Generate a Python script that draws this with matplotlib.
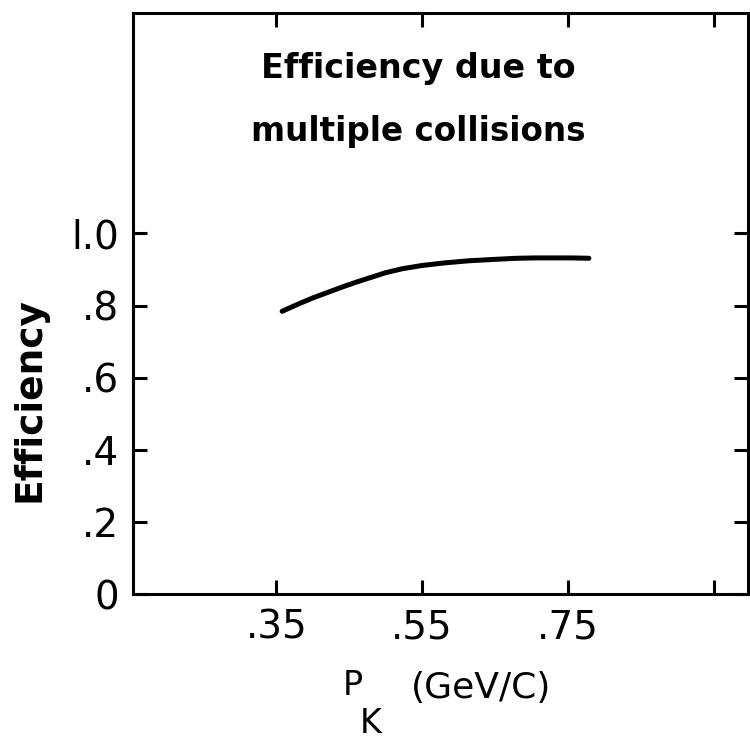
import matplotlib
matplotlib.use("Agg")
import matplotlib.pyplot as plt
import numpy as np

# data
p_k = [0.358, 0.38, 0.40, 0.42, 0.44, 0.46, 0.48, 0.50, 0.523, 0.55, 0.58,
       0.614, 0.65, 0.68, 0.706, 0.73, 0.755, 0.779]
eff = [0.784, 0.804, 0.821, 0.836, 0.851, 0.865, 0.878, 0.891, 0.902, 0.911, 0.918,
       0.924, 0.928, 0.931, 0.932, 0.932, 0.932, 0.931]
x_ticks = [0.35, 0.55, 0.75, 0.95]
x_ticklabels = [".35", ".55", ".75", ""]
y_ticks = [0, 0.2, 0.4, 0.6, 0.8, 1.0]
y_ticklabels = ["0", ".2", ".4", ".6", ".8", "l.0"]

plt.rcParams['font.family'] = ['DejaVu Sans']
fig = plt.figure(figsize=(7.5, 7.39), dpi=100)
ax = fig.add_axes([0.177, 0.196, 0.820, 0.786])

ax.plot(p_k, eff, color='black', lw=3.6, solid_capstyle='round')

ax.set_xlim(0.153, 0.997)
ax.set_ylim(0, 1.61)
ax.set_xticks(x_ticks)
ax.set_xticklabels(x_ticklabels, fontsize=28)
ax.set_yticks(y_ticks)
ax.set_yticklabels(y_ticklabels, fontsize=28)
ax.tick_params(direction='in', length=10, width=2.2, top=True, right=True, pad=10)
for s in ax.spines.values():
    s.set_linewidth(2.2)

fig.text(30 / 750, 1 - 399 / 739, "Efficiency", fontsize=27, fontweight='bold',
         rotation=90, ha='center', va='center')
ax.text(0.358, -0.158, "P", transform=ax.transAxes, fontsize=24, ha='center', va='center')
ax.text(0.387, -0.222, "K", transform=ax.transAxes, fontsize=24, ha='center', va='center')
ax.text(0.567, -0.162, "(GeV/C)", transform=ax.transAxes, fontsize=26, ha='center', va='center')

ax.text(0.465, 0.905, "Efficiency due to", transform=ax.transAxes, fontsize=24,
        fontweight='semibold', ha='center', va='center')
ax.text(0.465, 0.797, "multiple collisions", transform=ax.transAxes, fontsize=23.5,
        fontweight='semibold', ha='center', va='center')

fig.savefig("out.png", dpi=100)
